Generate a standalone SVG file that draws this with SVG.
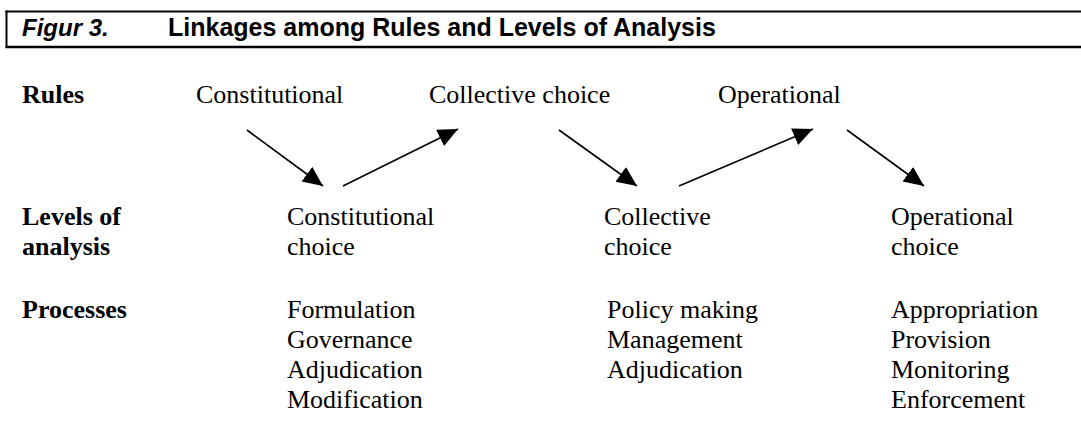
<svg xmlns="http://www.w3.org/2000/svg" width="1081" height="423" viewBox="0 0 1081 423">
<style>
.hd{font-family:"Liberation Sans",Arial,sans-serif;font-weight:bold;font-size:24px;fill:#000}
.title{font-size:25px}
.t{font-family:"Liberation Serif","Times New Roman",serif;font-size:26px;fill:#000}
.b{font-weight:bold}
.rule{stroke:#000;fill:none}
.conn line{stroke:#000;stroke-width:1.6;marker-end:url(#ah)}
</style>
<defs>
<marker id="ah" markerUnits="userSpaceOnUse" markerWidth="21" markerHeight="19" refX="20" refY="9" orient="auto">
<path d="M0,0 L20,9 L0,18 z" fill="#000"/>
</marker>
</defs>
<rect width="1081" height="423" fill="#fff"/>
<g id="header">
<line class="rule" x1="5.5" y1="11.5" x2="1081" y2="11.5" stroke-width="2"/>
<line class="rule" x1="5.5" y1="47" x2="1081" y2="47" stroke-width="2.6"/>
<line class="rule" x1="6.5" y1="10.5" x2="6.5" y2="48" stroke-width="2"/>
<text class="hd" x="22" y="36" font-style="italic">Figur 3.</text>
<text class="hd title" x="168" y="36">Linkages among Rules and Levels of Analysis</text>
</g>
<g id="row-labels">
<text class="t b" x="22" y="103">Rules</text>
<text class="t b" x="22" y="225">Levels of</text>
<text class="t b" x="22" y="255">analysis</text>
<text class="t b" x="22" y="318">Processes</text>
</g>
<g id="rule-constitutional"><text class="t" x="196" y="103">Constitutional</text></g>
<g id="rule-collective"><text class="t" x="429" y="103">Collective choice</text></g>
<g id="rule-operational"><text class="t" x="718" y="103">Operational</text></g>
<g id="level-constitutional">
<text class="t" x="287" y="225">Constitutional</text>
<text class="t" x="287" y="255">choice</text>
</g>
<g id="level-collective">
<text class="t" x="604" y="225">Collective</text>
<text class="t" x="604" y="255">choice</text>
</g>
<g id="level-operational">
<text class="t" x="891" y="225">Operational</text>
<text class="t" x="891" y="255">choice</text>
</g>
<g id="proc-constitutional">
<text class="t" x="287" y="318">Formulation</text>
<text class="t" x="287" y="348">Governance</text>
<text class="t" x="287" y="378">Adjudication</text>
<text class="t" x="287" y="408">Modification</text>
</g>
<g id="proc-collective">
<text class="t" x="607" y="318">Policy making</text>
<text class="t" x="607" y="348">Management</text>
<text class="t" x="607" y="378">Adjudication</text>
</g>
<g id="proc-operational">
<text class="t" x="891" y="318">Appropriation</text>
<text class="t" x="891" y="348">Provision</text>
<text class="t" x="891" y="378">Monitoring</text>
<text class="t" x="891" y="408">Enforcement</text>
</g>
<g id="connectors" class="conn">
<line x1="247" y1="130" x2="323" y2="186"/>
<line x1="343" y1="186" x2="458" y2="129"/>
<line x1="559" y1="130" x2="637" y2="186"/>
<line x1="679" y1="186" x2="813" y2="129"/>
<line x1="847" y1="130" x2="924" y2="186"/>
</g>
</svg>
